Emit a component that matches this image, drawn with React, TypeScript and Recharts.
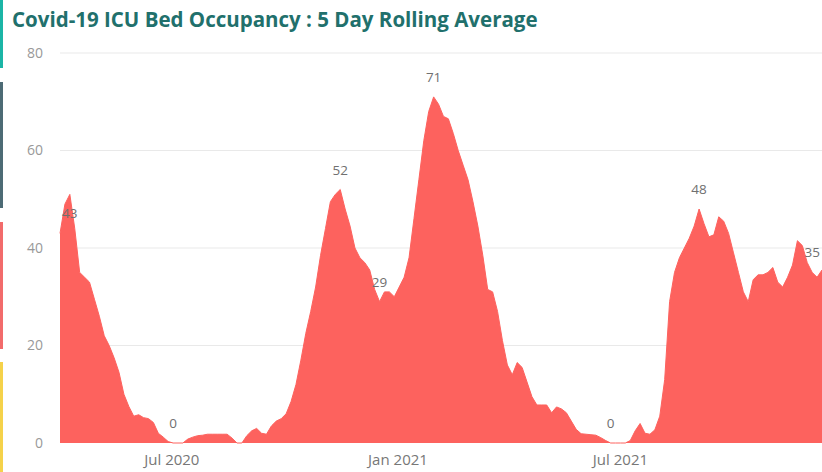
import React from "react";
import { AreaChart, Area, XAxis, YAxis, CartesianGrid, LabelList } from "recharts";

const dates = [
  "2020-04-01", "2020-04-05", "2020-04-09", "2020-04-13", "2020-04-17", "2020-04-21", "2020-04-25", "2020-04-29",
  "2020-05-03", "2020-05-07", "2020-05-11", "2020-05-15", "2020-05-19", "2020-05-23", "2020-05-27", "2020-05-31",
  "2020-06-04", "2020-06-08", "2020-06-12", "2020-06-16", "2020-06-20", "2020-06-24", "2020-06-28",
  "2020-07-02", "2020-07-06", "2020-07-10", "2020-07-14", "2020-07-18", "2020-07-22", "2020-07-26", "2020-07-30",
  "2020-08-03", "2020-08-07", "2020-08-11", "2020-08-15", "2020-08-19", "2020-08-23", "2020-08-27", "2020-08-31",
  "2020-09-04", "2020-09-08", "2020-09-12", "2020-09-16", "2020-09-20", "2020-09-24", "2020-09-28",
  "2020-10-02", "2020-10-06", "2020-10-10", "2020-10-14", "2020-10-18", "2020-10-22", "2020-10-26", "2020-10-30",
  "2020-11-03", "2020-11-07", "2020-11-11", "2020-11-15", "2020-11-19", "2020-11-23", "2020-11-27",
  "2020-12-01", "2020-12-05", "2020-12-09", "2020-12-13", "2020-12-17", "2020-12-21", "2020-12-25", "2020-12-29",
  "2021-01-02", "2021-01-06", "2021-01-10", "2021-01-14", "2021-01-18", "2021-01-22", "2021-01-26", "2021-01-30",
  "2021-02-03", "2021-02-07", "2021-02-11", "2021-02-15", "2021-02-19", "2021-02-23", "2021-02-27",
  "2021-03-03", "2021-03-07", "2021-03-11", "2021-03-15", "2021-03-19", "2021-03-23", "2021-03-27", "2021-03-31",
  "2021-04-04", "2021-04-08", "2021-04-12", "2021-04-16", "2021-04-20", "2021-04-24", "2021-04-28",
  "2021-05-02", "2021-05-06", "2021-05-10", "2021-05-14", "2021-05-18", "2021-05-22", "2021-05-26", "2021-05-30",
  "2021-06-03", "2021-06-07", "2021-06-11", "2021-06-15", "2021-06-19", "2021-06-23", "2021-06-27",
  "2021-07-01", "2021-07-05", "2021-07-09", "2021-07-13", "2021-07-17", "2021-07-21", "2021-07-25", "2021-07-29",
  "2021-08-02", "2021-08-06", "2021-08-10", "2021-08-14", "2021-08-18", "2021-08-22", "2021-08-26", "2021-08-30",
  "2021-09-03", "2021-09-07", "2021-09-11", "2021-09-15", "2021-09-19", "2021-09-23", "2021-09-27",
  "2021-10-01", "2021-10-05", "2021-10-09", "2021-10-13", "2021-10-17", "2021-10-21", "2021-10-25", "2021-10-29",
  "2021-11-02", "2021-11-06", "2021-11-10", "2021-11-14", "2021-11-18", "2021-11-22", "2021-11-26", "2021-11-30",
  "2021-12-04", "2021-12-08", "2021-12-12",
];

const icuBeds = [
  43, 49, 51, 44, 35, 34, 33, 29.5,
  26, 22, 20, 17.5, 14.5, 10, 7.5, 5.5,
  5.8, 5.2, 5, 4.2, 2, 1.2, 0.3,
  0, 0, 0, 0.8, 1.2, 1.5, 1.6, 1.8,
  1.8, 1.8, 1.8, 1.8, 1, 0, 0, 1.5,
  2.5, 3, 2, 1.8, 3.5, 4.5, 5,
  6, 8.5, 12, 17, 22.5, 27, 32, 38.5,
  44, 49.5, 51, 52, 48, 44.5, 40,
  38, 37, 35.5, 31.5, 29, 31, 31, 30,
  32, 34, 38, 46, 54, 62, 68, 71,
  69.5, 67, 66.5, 63.5, 60, 57, 54,
  49.5, 44.5, 38.5, 31.5, 31, 27, 21, 16,
  14, 16.5, 15.5, 12.5, 9.5, 7.8, 7.8,
  7.8, 6.2, 7.4, 7, 6.2, 4.5, 2.8, 1.9,
  1.8, 1.7, 1.6, 1.1, 0.5, 0, 0,
  0, 0, 0.5, 2.5, 4, 2, 1.8, 2.7,
  5.5, 13, 29, 35, 38, 40, 42, 44.5,
  48, 45, 42.3, 42.7, 46.4, 45.5, 43,
  39, 35, 31, 29, 33.5, 34.5, 34.5, 35,
  36, 33, 32, 34, 36.5, 41.5, 40.5, 37,
  35, 34, 35.5,
];

// points that carry a data label
const labelledDates = [
  "2020-04-01", "2020-07-02", "2020-11-15", "2020-12-17",
  "2021-01-30", "2021-06-23", "2021-09-03", "2021-12-04",
];

const xTicks = ["2020-07-01", "2021-01-01", "2021-07-01"];
const yTicks = [0, 20, 40, 60, 80];
const months = ["Jan", "Feb", "Mar", "Apr", "May", "Jun", "Jul", "Aug", "Sep", "Oct", "Nov", "Dec"];

const toTime = (d: string) => Date.parse(d + "T00:00:00Z");

const data = dates.map((d, i) => ({
  t: toTime(d),
  beds: icuBeds[i],
  lbl: labelledDates.includes(d) ? icuBeds[i] : null,
}));

const FONT = "'Segoe UI', 'Open Sans', sans-serif";

const fmtTick = (t: number) => {
  const dt = new Date(t);
  return `${months[dt.getUTCMonth()]} ${dt.getUTCFullYear()}`;
};

const PointLabel = (props: any) => {
  const { x, y, value, index } = props;
  if (value == null || x == null) return null;
  const first = index === 0;
  return (
    <text
      x={first ? x + 2 : x}
      y={y - 20}
      textAnchor={first ? "start" : "middle"}
      dominantBaseline="central"
      fill="#707070"
      fontSize={13.5}
      fontFamily={FONT}
    >
      {Math.round(value)}
    </text>
  );
};

const strips = [
  { top: 0, height: 68, color: "#1bb5a6" },
  { top: 82, height: 126, color: "#4d6b75" },
  { top: 222, height: 127, color: "#f26b6b" },
  { top: 362, height: 110, color: "#f5d24a" },
];

export default function App() {
  return (
    <div
      style={{
        position: "absolute",
        left: 0,
        top: 0,
        width: 822,
        height: 472,
        overflow: "hidden",
        background: "#fff",
        fontFamily: FONT,
      }}
    >
      {strips.map((s, i) => (
        <div
          key={i}
          style={{ position: "absolute", left: 0, top: s.top, width: 3, height: s.height, background: s.color }}
        />
      ))}
      <div
        style={{
          position: "absolute",
          left: 12,
          top: 5,
          fontSize: 20.5,
          fontWeight: 700,
          color: "#21706c",
          whiteSpace: "nowrap",
          lineHeight: "28px",
        }}
      >
        Covid-19 ICU Bed Occupancy : 5 Day Rolling Average
      </div>
      <div style={{ position: "absolute", left: 0, top: 0 }}>
        <AreaChart width={822} height={472} data={data} margin={{ top: 53, right: 0, bottom: 0, left: 0 }}>
          <CartesianGrid vertical={false} stroke="#e9e9e9" horizontalValues={[20, 40, 60, 80]} />
          <XAxis
            dataKey="t"
            type="number"
            scale="time"
            domain={[toTime("2020-04-01"), toTime("2021-12-12")]}
            ticks={xTicks.map(toTime)}
            tickFormatter={fmtTick}
            axisLine={false}
            tickLine={false}
            tickSize={0}
            tickMargin={11}
            height={29}
            tick={{ fill: "#777", fontSize: 15, fontFamily: FONT }}
          />
          <YAxis
            domain={[0, 80]}
            ticks={yTicks}
            axisLine={false}
            tickLine={false}
            tickSize={0}
            tickMargin={17}
            width={60}
            tick={{ fill: "#999", fontSize: 14, fontFamily: FONT }}
          />
          <Area
            type="linear"
            dataKey="beds"
            stroke="#fd625e"
            strokeWidth={1}
            fill="#fd625e"
            fillOpacity={1}
            dot={false}
            activeDot={false}
            isAnimationActive={false}
          >
            <LabelList dataKey="lbl" content={PointLabel} />
          </Area>
        </AreaChart>
      </div>
    </div>
  );
}
